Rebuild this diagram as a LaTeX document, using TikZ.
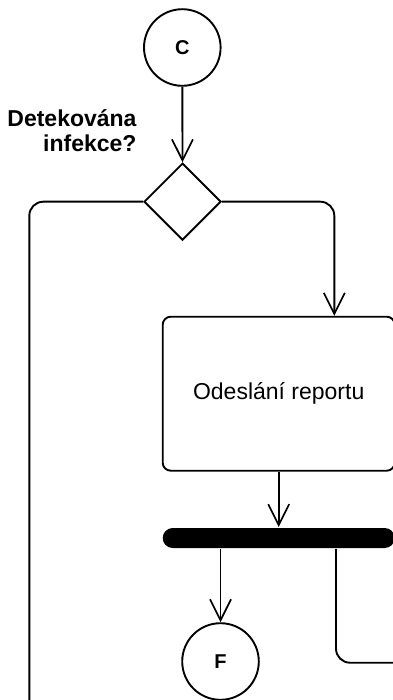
\documentclass[tikz,border=0pt]{standalone}
\usepackage{fontspec}
\setmainfont{Liberation Sans}
\usetikzlibrary{arrows.meta,shapes.geometric}
\begin{document}
\begin{tikzpicture}[x=1pt,y=-1pt,line width=1.9pt,
  arr/.style={-{Straight Barb[length=21pt,width=21pt,line width=1.7pt]}},
  conn/.style={draw,circle,inner sep=0pt,minimum size=76.6pt,font=\fontsize{20}{24}\selectfont\bfseries},
  dec/.style={draw,diamond,inner sep=0pt,minimum width=77pt,minimum height=77pt},
  act/.style={draw,rectangle,rounded corners=8pt,inner sep=0pt,minimum width=232pt,minimum height=154pt,font=\fontsize{23}{27}\selectfont},
  fork/.style={fill=black,rectangle,rounded corners=10pt,inner sep=0pt,minimum width=232pt,minimum height=20pt},
  lbl/.style={align=right,inner sep=0pt,font=\fontsize{23}{25}\selectfont\bfseries}]
\useasboundingbox (0,0) rectangle (392,700);
\node[conn] (c) at (182.3,47.5) {C};
\node[dec] (d) at (182.5,201.7) {};
\node[act] (box) at (278.7,393.7) {Odeslání reportu};
\node[fork] (bar) at (278.7,538) {};
\node[conn] (f) at (220.5,661.5) {F};
\node[lbl,anchor=north east] (q) at (137.5,109) {Detekována\\infekce?};
\coordinate (lb) at (29.3,710);
\coordinate (rin) at (334.3,0);
\coordinate (rx) at (336,662.7);
\coordinate (re) at (410,662.7);
\draw[arr] (c) -- (d.north);
\draw[rounded corners=14pt] (d.west) -| (lb);
\draw[arr,rounded corners=14pt] (d.east) -| (rin |- box.north);
\draw[arr] (box.south) -- (bar.north);
\draw[arr] (f.north |- bar.south) -- (f.north);
\draw[rounded corners=14pt] (rx |- bar.south) |- (re);
\end{tikzpicture}
\end{document}
